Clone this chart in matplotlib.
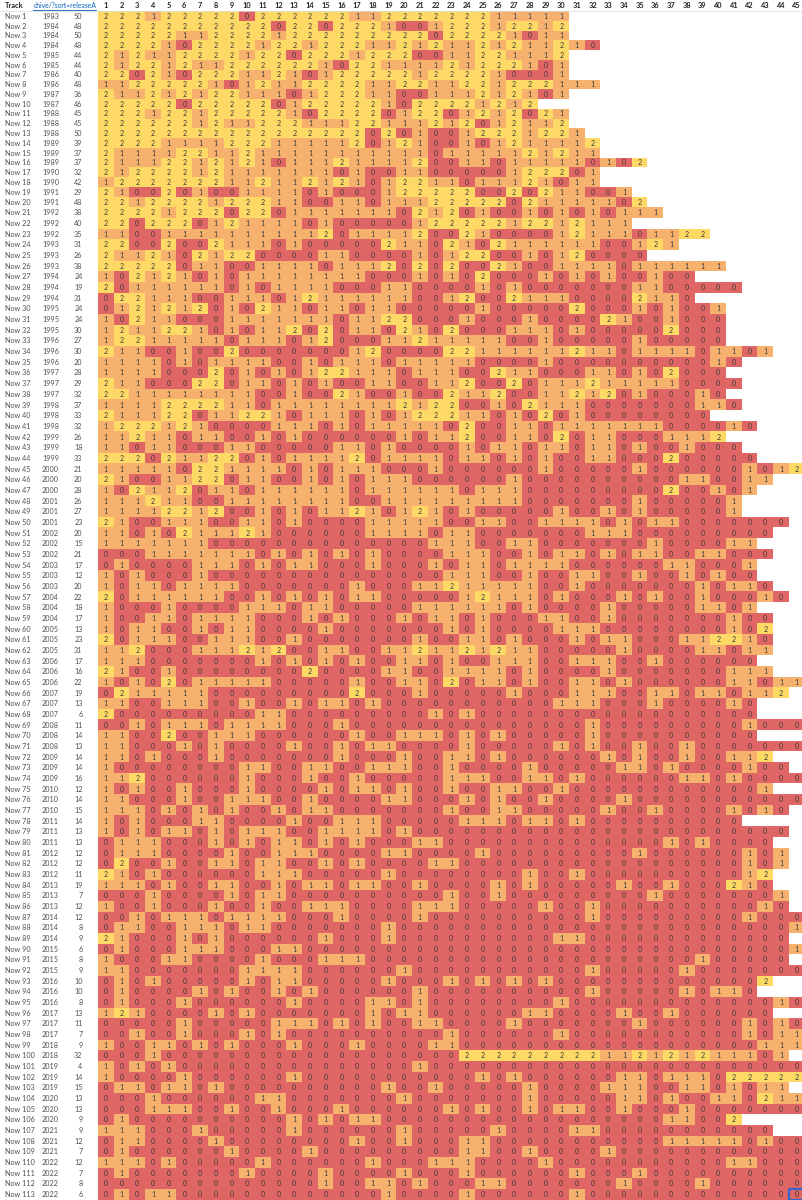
import numpy as np
import matplotlib
matplotlib.use("Agg")
import matplotlib.pyplot as plt
from matplotlib.colors import ListedColormap, BoundaryNorm
from matplotlib.patches import Rectangle
from matplotlib.transforms import Bbox, TransformedBbox

# ---------------- data ----------------
track_labels = ["Now %d" % i for i in range(1, 114)]
years = [1983, 1984, 1984, 1984, 1985, 1985, 1986, 1986, 1987, 1987,
         1988, 1988, 1988, 1989, 1989, 1989, 1990, 1990, 1991, 1991,
         1992, 1992, 1992, 1993, 1993, 1993, 1994, 1994, 1994, 1995,
         1995, 1995, 1996, 1996, 1996, 1997, 1997, 1997, 1998, 1998,
         1998, 1999, 1999, 1999, 2000, 2000, 2000, 2001, 2001, 2001,
         2002, 2002, 2002, 2003, 2003, 2003, 2004, 2004, 2004, 2005,
         2005, 2005, 2006, 2006, 2006, 2007, 2007, 2007, 2008, 2008,
         2008, 2009, 2009, 2009, 2010, 2010, 2010, 2011, 2011, 2011,
         2012, 2012, 2012, 2013, 2013, 2013, 2014, 2014, 2014, 2015,
         2015, 2015, 2016, 2016, 2016, 2017, 2017, 2017, 2018, 2018,
         2019, 2019, 2019, 2020, 2020, 2020, 2021, 2021, 2021, 2022,
         2022, 2022, 2022]
totals = [50, 48, 50, 48, 44, 44, 40, 48, 36, 46,
          45, 45, 50, 39, 37, 37, 32, 42, 29, 48,
          38, 40, 35, 31, 26, 38, 24, 19, 31, 24,
          24, 30, 27, 30, 20, 28, 29, 32, 37, 33,
          32, 26, 18, 33, 21, 20, 28, 26, 27, 23,
          20, 15, 21, 17, 12, 20, 22, 18, 17, 13,
          23, 31, 17, 16, 22, 19, 13, 6, 11, 14,
          13, 14, 14, 16, 12, 14, 15, 14, 13, 13,
          12, 12, 11, 19, 7, 12, 12, 8, 9, 6,
          8, 9, 10, 10, 8, 13, 11, 7, 9, 32,
          4, 14, 15, 13, 13, 9, 9, 12, 7, 12,
          7, 8, 6]
column_labels = [str(c) for c in range(1, 46)]
header_track = "Track"
header_link = "chive/?sort=releaseA"

# score of every track on each album (0 / 1 / 2); string per album
scores = [
    "222122222022222211222222211111",
    "222222222220220222100122212212",
    "222221122221222222222022221011",
    "22221022221221222112121121211210",
    "212112222122022212220011221112",
    "212212112222221022111121222101",
    "220210222112101222221222210001",
    "11222221012112222112211221222111",
    "211212122111012221100111212101",
    "2222202222201222221022221212",
    "222122122222102222012201212021",
    "222222121122211122111212012112",
    "2222222222222222202010012221221",
    "22221111222111112012100101211112",
    "21111221121111111111101111121211",
    "21112212121011121111200110111110102",
    "21222212111111101001100000122201",
    "12222222112112121012211011121011",
    "2100201001111010001222220020211001",
    "22122221222110011011122222021111102",
    "222212220220111111102120100101010111",
    "2202220121111010000012222212212111",
    "110011111111112011112002100001211101122",
    "2200200211101000002110210211111100121",
    "21121021220000110000101220010120000",
    "2222201100111101112020200210011110111111",
    "10212101011111111000101020001010100100",
    "20111111010111100011000010100000001100000",
    "02211100111012111111001200211100002110",
    "0121212010211011011000001000002000101001",
    "1021100011111110112200010001000021001000",
    "1211221010112020110210200011101000002000",
    "1221111101110120001121111100100000100000",
    "2110010020000000120000221111112110111101101",
    "11110101111001011101111100001000000000010",
    "1111000201010122111011100211000110102000",
    "21100022011010100110011200201112111110000",
    "2211111111001002100100211200112120100010",
    "11112222110111111112122001021110000000110",
    "211122011221011101012221101020100000000",
    "122212100001110101111102001101111111000010",
    "1121101100101000000101120011020110001112",
    "11011000110000011010000101101101101001000",
    "222021122010111120111101101010011000200000",
    "111110221111010111000100000010000010000001012",
    "2100112201100101011100000010000000000110011",
    "102112011011111101111110111000000000200101",
    "11121100111111110011111111100000001000001",
    "11112212001010112101210100000100101000001",
    "21001110011010000111110011001111010110000000",
    "1101021112100000011110110000000111000000000",
    "111111100000000000000111001100000001000011",
    "0001111111010101010000111001011010110011000",
    "010000111010110001000101101111000000110001",
    "101000100000000000000011100100110010010100",
    "1011011110000000100011211111001000000010110",
    "20111111001010101100000121110100010100100010",
    "100010000111011000001111110100001000001101",
    "1001101111000101000101101000110010000000100",
    "1011001011000010000000101000011100000000102",
    "2011100111001000000010011010001011000112210",
    "1120001112120011001121121211000001000011011",
    "111000000010101010011010011100111001000000",
    "2100100000000200001100111101000010000000111",
    "101020111110000010011020110100110100000011011",
    "02111110000000002000100000100011100110110112",
    "110011100100101101000000000001110001000010",
    "200000000011000000000101000000000000000000",
    "001011101111000100000000000000010000000001000",
    "110020011100000010011101010000010000000000",
    "110001010000100101100001000001010010010000000",
    "1101000100000001000100110100000010100100112",
    "10000000011001100111001000010000011010000100",
    "112000000100010010000011100110100000011010000",
    "1010010001000010110100100110010000000000001",
    "110001001110010000110001010010000100000000000",
    "11101010100101100000001001100000100100001010",
    "10100011000010011100000111011010000000000",
    "10101101011100111101000000000000000000000000",
    "0111000101011010100011000000000000001010000",
    "01110000100111000011000010000000001000000101",
    "02001001101100101000011000000000000000000101",
    "2101000000111000001000000001001000000000012",
    "1110100110010110110010000101000001001000210",
    "00010000101100000000001001000000000100000001",
    "10010001001001110000111000001001000000000010",
    "001011101111000100001000000000010000000001000",
    "011001110110000000100000000000000000000000001",
    "21000101000000100010000000000110000000000000",
    "010001110001100000000000000000000000000000001",
    "10001100001000111000000000000000000000100000",
    "110000000111100000010000000000010000010000000",
    "0101000001011000001000101010100000000000002",
    "010000101001010000001000000000010000010110",
    "010001000000100001101000000001000000000000010",
    "1210000101000000010110000001100001001000000",
    "000001000001110101001100001000000010000001010",
    "001001000101000000000010000001000000000001011",
    "100110101000100010000110000000000000000000111",
    "00010000000000000000000222222222112121211101",
    "101010000000000000001000000000000000000000000",
    "100001000000100000000000101000000110111022222",
    "01101101000000000010010000010000111001101011",
    "000100000011000000010000000100000110100110211",
    "000111001001000100000010100101100100010000000",
    "01000000000010101100000000000000000011002",
    "1110001000001000000100000100001100000000000",
    "011000010000000010010001100000000000111110100",
    "010000001000010000000001100100001000000000000",
    "111010000010000001000111000010000000000011000",
    "010000000100001000010001000000100010000000000",
    "000000000000001001101000110000000100001000000",
    "010110000000000000100001000000100000000000000",
]

# ---------------- layout ----------------
W, H = 803, 1200
header_h = 11.2
col_left = 98.0
col_w = 15.7
n_rows = len(track_labels)
n_cols = len(column_labels)
row_h = np.where(np.arange(n_rows) < 19, 9.76, 10.67)
y_edges = header_h + np.concatenate([[0], np.cumsum(row_h)])
x_edges = col_left + np.arange(n_cols + 1) * col_w
y_cent = 0.5 * (y_edges[:-1] + y_edges[1:])
x_cent = 0.5 * (x_edges[:-1] + x_edges[1:])

c_red, c_orange, c_yellow = "#E06666", "#F5B16D", "#FFD966"
txt_dark = "#3a3a3a"
font = ["Lato", "DejaVu Sans"]

matrix = np.full((n_rows, n_cols), np.nan)
for i, s in enumerate(scores):
    vals = [int(ch) for ch in s][:n_cols]
    matrix[i, :len(vals)] = vals
masked = np.ma.masked_invalid(matrix)

fig = plt.figure(figsize=(W / 100, H / 100), dpi=100)
ax = fig.add_axes([0, 0, 1, 1])
ax.set_xlim(0, W)
ax.set_ylim(H, 0)
ax.axis("off")

cmap = ListedColormap([c_red, c_orange, c_yellow])
norm = BoundaryNorm([-0.5, 0.5, 1.5, 2.5], cmap.N)
ax.pcolormesh(x_edges, y_edges, masked, cmap=cmap, norm=norm, shading="flat")

# cell numbers
for i in range(n_rows):
    for j in range(n_cols):
        v = matrix[i, j]
        if not np.isnan(v):
            ax.text(x_cent[j], y_cent[i] + 0.3, "%d" % v, ha="center", va="center",
                    fontsize=5, color=txt_dark, family=font)

# row labels
label_col = "#505050"
for i in range(n_rows):
    ax.text(5, y_cent[i] + 0.3, track_labels[i], ha="left", va="center",
            fontsize=5.2, color=label_col, family=font)
    ax.text(42, y_cent[i] + 0.3, str(years[i]), ha="left", va="center",
            fontsize=5.2, color=label_col, family=font)
    ax.text(82.5, y_cent[i] + 0.3, str(totals[i]), ha="right", va="center",
            fontsize=5.2, color=label_col, family=font)

# header
hy = header_h / 2 + 0.3
ax.text(5, hy, header_track, ha="left", va="center", fontsize=5.3,
        fontweight="bold", color="#222222", family=font)
link = ax.text(33.5, hy, header_link, ha="left", va="center", fontsize=4.9,
               color="#0563C1", family=font)
clip = TransformedBbox(Bbox([[0, 0], [col_left - 1.5, header_h]]), ax.transData)
link.set_clip_box(clip)
link.set_clip_on(True)
for j in range(n_cols):
    ax.text(x_cent[j], hy, column_labels[j], ha="center", va="center",
            fontsize=5.3, fontweight="bold", color="#222222", family=font)

fig.canvas.draw()
bb = link.get_window_extent()
inv = ax.transData.inverted()
(lx0, ly0), (lx1, _) = inv.transform([[bb.x0, bb.y0], [bb.x1, bb.y0]])
ax.plot([lx0, min(lx1, col_left - 1.5)], [ly0 + 0.3, ly0 + 0.3], color="#0563C1", lw=0.6)

# header separator
ax.plot([0, W], [header_h, header_h], color="#d9d9d9", lw=0.5)

# selected cell (last album, last column)
ax.add_patch(Rectangle((x_edges[-2], y_edges[-2]), col_w, row_h[-1], fill=False,
                       edgecolor="#2F64C8", lw=1.6))

fig.savefig("out.png", dpi=100)
